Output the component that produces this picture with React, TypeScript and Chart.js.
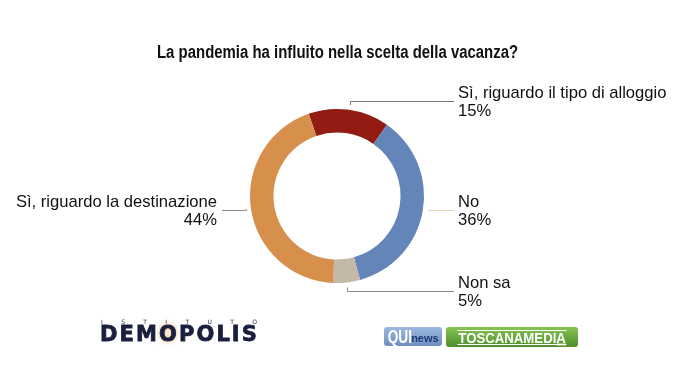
import React, { useEffect, useRef } from "react";
import { Chart, registerables } from "chart.js";

Chart.register(...registerables);

const title = "La pandemia ha influito nella scelta della vacanza?";
const categories = [
  "Sì, riguardo il tipo di alloggio",
  "No",
  "Non sa",
  "Sì, riguardo la destinazione",
];
const values = [15, 36, 5, 44];
const valueLabels = ["15%", "36%", "5%", "44%"];

const sliceColors = ["#921C14", "#6485B8", "#C4B8A8", "#D6904C"];
const leaderColors = ["#7a7a7a", "#E9D3AE", "#8a8a8a", "#8a8a8a"];

const leaderPlugin = {
  id: "leaders",
  afterDatasetsDraw(chart: any) {
    const ctx = chart.ctx;
    const meta = chart.getDatasetMeta(0);
    ctx.save();
    meta.data.forEach((arc: any, i: number) => {
      const p = arc.getProps(["x", "y", "startAngle", "endAngle", "outerRadius"], true);
      const mid = (p.startAngle + p.endAngle) / 2;
      const R = p.outerRadius;
      const right = Math.cos(mid) > 0;
      const px = p.x + Math.cos(mid) * (R + 5);
      const py = p.y + Math.sin(mid) * (R + 5);
      const lineY =
        Math.abs(Math.sin(mid)) > 0.7
          ? py + 4 * Math.sign(Math.sin(mid))
          : p.y + 14 * Math.sign(Math.sin(mid));
      const endX = right ? p.x + R + 30 : p.x - R - 28;
      ctx.strokeStyle = leaderColors[i];
      ctx.lineWidth = 1;
      ctx.beginPath();
      ctx.moveTo(Math.round(px) + 0.5, py);
      ctx.lineTo(Math.round(px) + 0.5, Math.round(lineY) + 0.5);
      ctx.lineTo(endX, Math.round(lineY) + 0.5);
      ctx.stroke();
      ctx.fillStyle = "#111";
      ctx.font = "16.6px 'Liberation Sans', Arial, sans-serif";
      ctx.textBaseline = "alphabetic";
      ctx.textAlign = right ? "left" : "right";
      const tx = right ? endX + 4 : endX - 5;
      ctx.fillText(categories[i], tx, Math.round(lineY) - 3);
      ctx.fillText(valueLabels[i], tx, Math.round(lineY) + 15);
    });
    ctx.restore();
  },
};

function Logos() {
  return (
    <>
      <div
        style={{
          position: "absolute",
          left: 101,
          top: 318,
          width: 156,
          fontFamily: "'DejaVu Sans', sans-serif",
          fontSize: 6,
          color: "#1b1f3f",
          display: "flex",
          justifyContent: "space-between",
        }}
      >
        {"ISTITUTO".split("").map((c, i) => (
          <span key={i}>{c}</span>
        ))}
      </div>
      <div
        style={{
          position: "absolute",
          left: 100,
          top: 323,
          fontFamily: "'DejaVu Sans', sans-serif",
          fontWeight: 700,
          fontSize: 21,
          letterSpacing: 2.1,
          color: "#1b1f3f",
          WebkitTextStroke: "0.8px #1b1f3f",
          lineHeight: "22px",
          whiteSpace: "nowrap",
        }}
      >
        DEM
        <span
          style={{
            color: "#1b1f3f",
            textShadow: "0 0 5px rgba(230,150,60,0.8)",
          }}
        >
          O
        </span>
        POLIS
      </div>
      <div
        style={{
          position: "absolute",
          left: 384,
          top: 327,
          width: 58,
          height: 19,
          borderRadius: 3,
          background: "linear-gradient(#9cb8de, #6d8fc2)",
          display: "flex",
          alignItems: "center",
          justifyContent: "center",
          whiteSpace: "nowrap",
          overflow: "hidden",
        }}
      >
        <span
          style={{
            fontFamily: "'Liberation Sans', sans-serif",
            fontWeight: 700,
            fontSize: 19,
            color: "#fff",
            lineHeight: "19px",
            display: "inline-block",
            transform: "scaleX(0.72)",
            marginLeft: -4,
            marginRight: -6,
          }}
        >
          QUI
        </span>
        <span
          style={{
            fontFamily: "'Liberation Sans', sans-serif",
            fontWeight: 700,
            fontSize: 11,
            color: "#1d3a74",
            marginTop: 3,
          }}
        >
          news
        </span>
      </div>
      <div
        style={{
          position: "absolute",
          left: 446,
          top: 327,
          width: 132,
          height: 20,
          borderRadius: 3,
          background: "linear-gradient(#86c452, #4f8f2b)",
          display: "flex",
          alignItems: "center",
          justifyContent: "center",
          overflow: "hidden",
        }}
      >
        <span
          style={{
            fontFamily: "'Liberation Sans', sans-serif",
            fontWeight: 700,
            fontSize: 15,
            color: "#fff",
            lineHeight: "13px",
            borderTop: "1px solid #fff",
            borderBottom: "1px solid #fff",
            padding: "0 1px",
            display: "inline-block",
            transform: "scaleX(0.88)",
            whiteSpace: "nowrap",
          }}
        >
          TOSCANAMEDIA
        </span>
        <span
          style={{
            position: "absolute",
            right: 12,
            bottom: 0,
            fontSize: 3,
            color: "#fff",
            fontFamily: "sans-serif",
          }}
        >
          NEWS
        </span>
      </div>
    </>
  );
}

export default function App() {
  const ref = useRef<HTMLCanvasElement | null>(null);
  useEffect(() => {
    if (!ref.current) return;
    const chart = new Chart(ref.current, {
      type: "doughnut",
      data: {
        labels: categories,
        datasets: [
          {
            data: values,
            backgroundColor: sliceColors,
            borderWidth: 0,
          },
        ],
      },
      options: {
        animation: false,
        responsive: false,
        rotation: -19,
        cutout: "73%",
        layout: { padding: { top: 109, bottom: 97, left: 250, right: 251 } },
        plugins: {
          legend: { display: false },
          tooltip: { enabled: false },
          title: { display: false },
        },
      },
      plugins: [leaderPlugin],
    });
    return () => chart.destroy();
  }, []);
  return (
    <div
      style={{
        position: "fixed",
        left: 0,
        top: 0,
        width: 675,
        height: 380,
        background: "#fff",
        overflow: "hidden",
      }}
    >
      <canvas
        ref={ref}
        width={675}
        height={380}
        style={{ position: "absolute", left: 0, top: 0 }}
      />
      <div
        style={{
          position: "absolute",
          left: 0,
          width: 675,
          top: 41,
          textAlign: "center",
        }}
      >
        <span
          style={{
            display: "inline-block",
            fontFamily: "'Liberation Sans', Arial, sans-serif",
            fontWeight: 700,
            fontSize: 18,
            color: "#111",
            lineHeight: "22px",
            whiteSpace: "nowrap",
            transform: "scaleX(0.83)",
          }}
        >
          {title}
        </span>
      </div>
      <Logos />
    </div>
  );
}
